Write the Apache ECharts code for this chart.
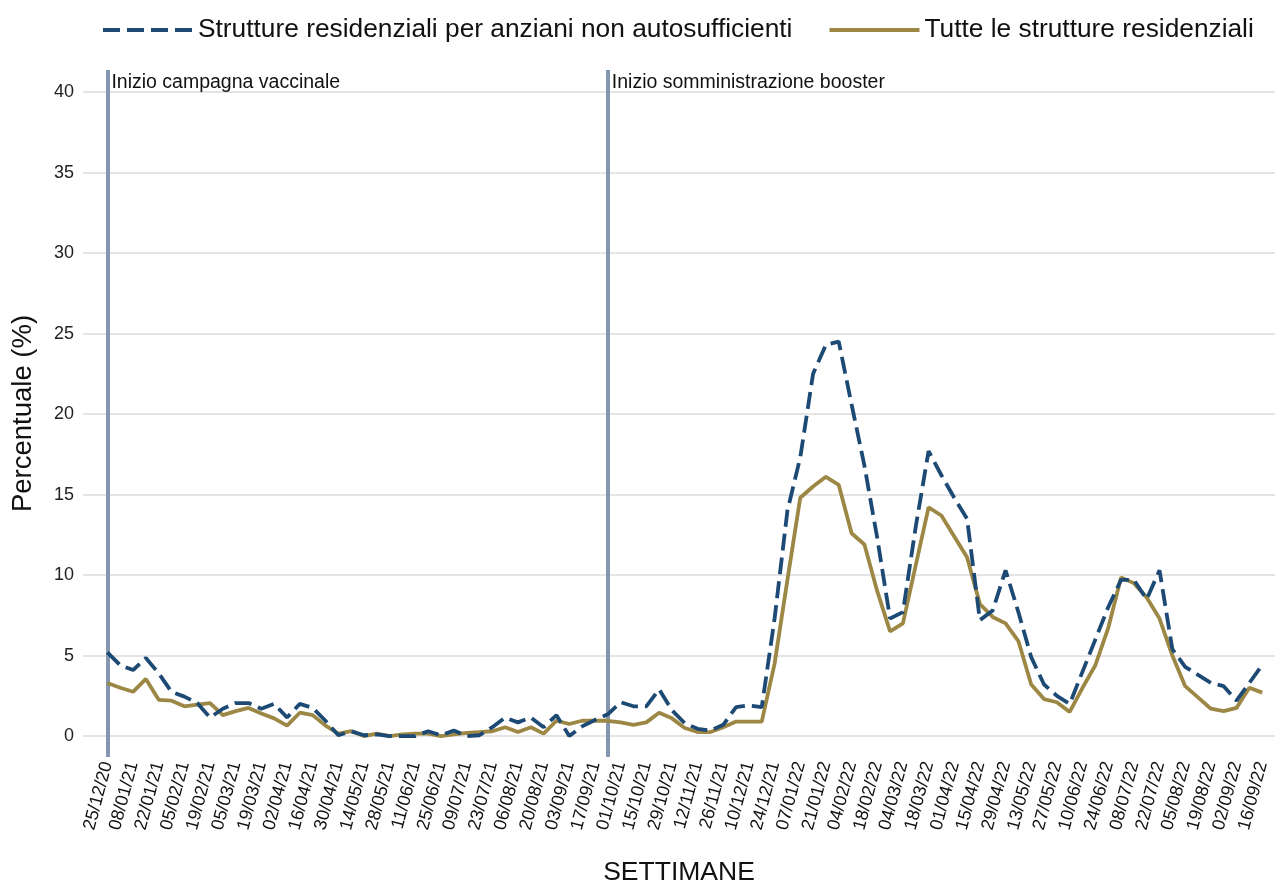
<!DOCTYPE html>
<html>
<head>
	<meta charset="utf-8" />
	<title>Percentuale settimanale - strutture residenziali</title>
	<script src="https://cdn.jsdelivr.net/npm/echarts@6/dist/echarts.min.js"></script>
</head>
<body style="margin:0;background:#fff;">
	<div id="main" style="width:1275px;height:882px;"></div>
	<script type="text/javascript">

		// etichette asse x (una ogni due settimane)
		var tickLabels = ['25/12/20','08/01/21','22/01/21','05/02/21','19/02/21','05/03/21','19/03/21','02/04/21','16/04/21','30/04/21',
			'14/05/21','28/05/21','11/06/21','25/06/21','09/07/21','23/07/21','06/08/21','20/08/21','03/09/21','17/09/21',
			'01/10/21','15/10/21','29/10/21','12/11/21','26/11/21','10/12/21','24/12/21','07/01/22','21/01/22','04/02/22',
			'18/02/22','04/03/22','18/03/22','01/04/22','15/04/22','29/04/22','13/05/22','27/05/22','10/06/22','24/06/22',
			'08/07/22','22/07/22','05/08/22','19/08/22','02/09/22','16/09/22'];

		// valori settimanali (%), settimana 0 = 25/12/20
		var anziani = [5.2,4.4,4.1,4.85,3.9,2.75,2.45,2.05,1.15,1.7,
			2.05,2.05,1.7,2.0,1.15,2.0,1.75,0.95,0.05,0.3,
			0.05,0.1,0.0,0.0,0.0,0.3,0.05,0.35,0.0,0.05,
			0.55,1.15,0.85,1.15,0.55,1.3,0.0,0.6,1.0,1.35,
			2.1,1.85,1.85,2.9,1.6,0.8,0.45,0.35,0.7,1.8,
			1.9,1.8,7.3,14.0,17.3,22.5,24.3,24.5,20.6,16.8,
			12.3,7.3,7.7,13.0,17.7,16.2,14.8,13.5,7.2,7.8,
			10.3,7.7,4.9,3.2,2.5,2.0,4.0,6.0,8.0,9.7,
			9.7,8.5,10.3,5.4,4.3,3.8,3.3,3.1,2.2,3.3,
			4.4];
		var tutte = [3.3,3.0,2.75,3.55,2.25,2.2,1.85,1.95,2.05,1.3,
			1.55,1.75,1.4,1.1,0.65,1.45,1.3,0.65,0.15,0.3,
			0.0,0.15,0.0,0.1,0.15,0.15,0.0,0.1,0.2,0.25,
			0.3,0.55,0.25,0.55,0.15,0.95,0.75,0.95,0.95,0.95,
			0.85,0.7,0.85,1.45,1.1,0.5,0.25,0.25,0.55,0.9,
			0.9,0.9,4.5,9.7,14.8,15.5,16.1,15.6,12.6,11.9,
			9.0,6.5,7.0,10.6,14.2,13.7,12.4,11.1,8.2,7.4,
			7.0,5.9,3.2,2.3,2.1,1.5,3.0,4.4,6.7,9.85,
			9.5,8.6,7.3,5.0,3.1,2.4,1.7,1.55,1.75,3.0,
			2.7];

		var yTicks = [0, 5, 10, 15, 20, 25, 30, 35, 40];
		var eventi = ['Inizio campagna vaccinale', 'Inizio somministrazione booster'];
		var eventiSettimana = [0, 39];

		var xTicks = tickLabels.map(function (d, i) { return i * 2; });
		function toPairs(arr) {
			return arr.map(function (v, i) { return [i, v]; });
		}

		var myChart = echarts.init(document.getElementById('main'));

		var option = {
			animation: false,
			textStyle: { fontFamily: 'Liberation Sans, Arial, sans-serif' },
			legend: {
				top: 12,
				left: 96,
				itemWidth: 90,
				itemHeight: 4,
				itemGap: 35,
				itemStyle: { opacity: 0 },
				lineStyle: { width: 4 },
				textStyle: { fontSize: 26.3, color: '#111' },
				data: ['Strutture residenziali per anziani non autosufficienti', 'Tutte le strutture residenziali']
			},
			grid: {
				left: 83, right: 0, top: 70, bottom: 125,
				outerBoundsMode: 'none'
			},
			xAxis: {
				type: 'value',
				min: -1.9,
				max: 91,
				name: 'SETTIMANE',
				nameLocation: 'middle',
				nameGap: 102,
				nameTextStyle: { fontSize: 26.5, color: '#111' },
				axisLine: { show: false },
				axisTick: { show: false, customValues: xTicks },
				splitLine: { show: false },
				axisLabel: {
					customValues: xTicks,
					rotate: 75,
					fontSize: 18,
					color: '#111',
					margin: 5,
					formatter: function (v) { return tickLabels[Math.round(v / 2)]; }
				}
			},
			yAxis: {
				type: 'value',
				min: -1.3,
				max: 41.37,
				name: 'Percentuale (%)',
				nameLocation: 'middle',
				nameGap: 46,
				nameTextStyle: { fontSize: 27.5, color: '#111' },
				axisLine: { show: false },
				axisTick: { show: false, customValues: yTicks },
				axisLabel: { customValues: yTicks, fontSize: 18, color: '#222', margin: 9 },
				splitLine: { show: true, lineStyle: { color: '#e4e4e4', width: 2 } }
			},
			series: [
				{
					name: 'Strutture residenziali per anziani non autosufficienti',
					type: 'line',
					symbol: 'none',
					z: 3,
					lineStyle: { color: '#1d4a75', width: 3.8, type: [17, 7] },
					itemStyle: { color: '#1d4a75' },
					data: toPairs(anziani),
					markLine: {
						silent: true,
						symbol: 'none',
						z: 1,
						label: { show: false },
						lineStyle: { color: '#8497b0', width: 4, type: 'solid' },
						data: eventiSettimana.map(function (w) { return { xAxis: w }; })
					},
					markPoint: {
						silent: true,
						symbol: 'rect',
						symbolSize: 0,
						label: {
							show: true,
							position: 'right',
							distance: 4,
							fontSize: 19.5,
							color: '#111',
							formatter: '{b}'
						},
						data: eventi.map(function (t, i) {
							return { name: t, coord: [eventiSettimana[i], 40.56] };
						})
					}
				},
				{
					name: 'Tutte le strutture residenziali',
					type: 'line',
					symbol: 'none',
					z: 2,
					lineStyle: { color: '#9c8744', width: 3.8 },
					itemStyle: { color: '#9c8744' },
					data: toPairs(tutte)
				}
			]
		};

		myChart.setOption(option);
	</script>
</body>
</html>
